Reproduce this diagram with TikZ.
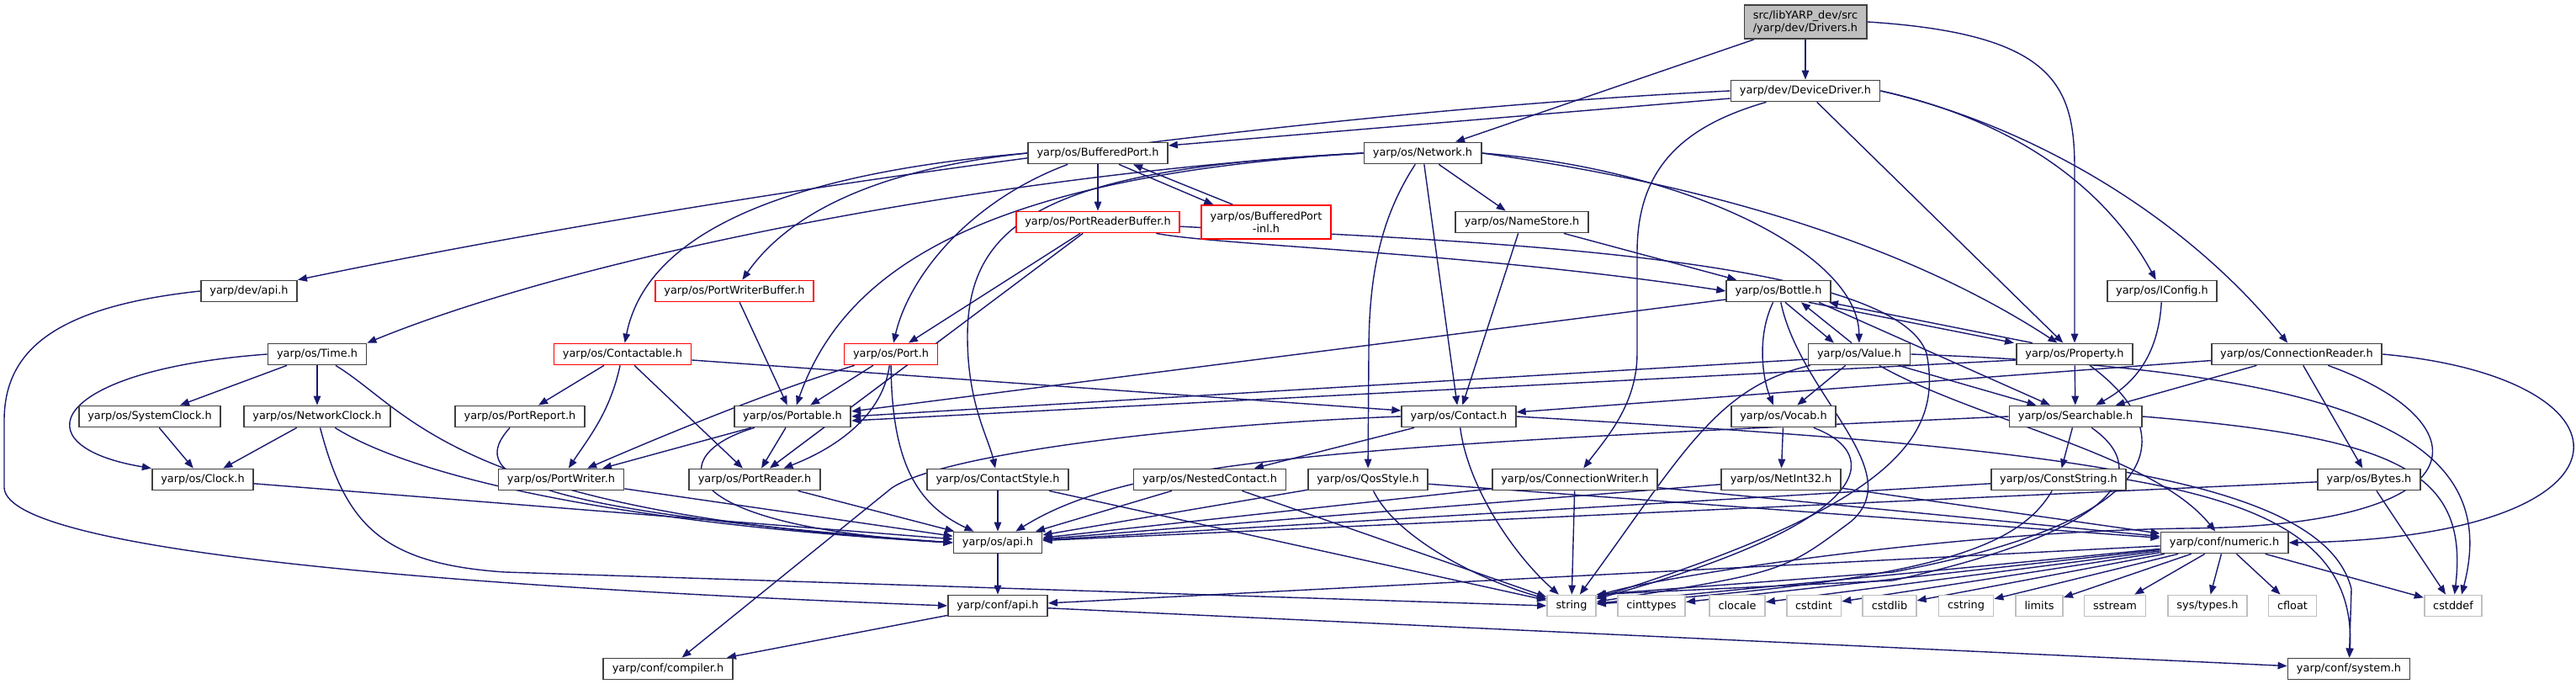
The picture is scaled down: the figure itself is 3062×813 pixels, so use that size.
\documentclass[tikz,border=0pt]{standalone}
\usepackage{fontspec}
\setmainfont{DejaVu Sans}
\usepackage{tikz}
\usetikzlibrary{arrows.meta}
\definecolor{edgeblue}{HTML}{191970}
\definecolor{boxgray}{HTML}{404040}
\definecolor{sysgray}{HTML}{BFBFBF}
\pgfdeclarelayer{edges}
\pgfsetlayers{edges,main}

\begin{document}
\begin{tikzpicture}[x=0.01cm,y=-0.01cm,font=\fontsize{3.66}{4.27}\selectfont,
  box/.style={draw=boxgray,fill=white,line width=0.5pt,minimum height=0.25cm,inner xsep=0.105cm,inner ysep=0pt},
  redbox/.style={box,draw=red},
  sysbox/.style={box,draw=sysgray},
  incl/.style={draw=edgeblue,line width=0.4pt,-{Triangle[length=0.11cm,width=0.085cm]}}]
\useasboundingbox (0,0) rectangle (3062,813);

% rank 0-3
\node[box,fill=sysgray,minimum height=0.4cm,align=center] (drivers) at (2146,26) {src/libYARP\_dev/src\\/yarp/dev/Drivers.h};
\node[box] (devdriver) at (2146,108) {yarp/dev/DeviceDriver.h};
\node[box] (bufport) at (1305,182) {yarp/os/BufferedPort.h};
\node[box] (network) at (1691,182) {yarp/os/Network.h};
\node[redbox] (prbuffer) at (1305,264) {yarp/os/PortReaderBuffer.h};
\node[redbox,minimum height=0.4cm,align=center] (bufportinl) at (1505,264) {yarp/os/BufferedPort\\-inl.h};
\node[box] (namestore) at (1809,264) {yarp/os/NameStore.h};

% rank 4-5
\node[box] (devapi) at (296,346) {yarp/dev/api.h};
\node[redbox] (pwbuffer) at (873,346) {yarp/os/PortWriterBuffer.h};
\node[box] (bottle) at (2114,346) {yarp/os/Bottle.h};
\node[box] (iconfig) at (2570,346) {yarp/os/IConfig.h};
\node[box] (time) at (377,421) {yarp/os/Time.h};
\node[redbox] (contactable) at (740,421) {yarp/os/Contactable.h};
\node[redbox] (port) at (1059,421) {yarp/os/Port.h};
\node[box] (value) at (2210,421) {yarp/os/Value.h};
\node[box] (property) at (2466,421) {yarp/os/Property.h};
\node[box] (connreader) at (2730,421) {yarp/os/ConnectionReader.h};

% rank 6-7
\node[box] (sysclock) at (178,495) {yarp/os/SystemClock.h};
\node[box] (netclock) at (377,495) {yarp/os/NetworkClock.h};
\node[box] (portreport) at (618,495) {yarp/os/PortReport.h};
\node[box] (portable) at (942,495) {yarp/os/Portable.h};
\node[box] (contact) at (1734,495) {yarp/os/Contact.h};
\node[box] (vocab) at (2120,495) {yarp/os/Vocab.h};
\node[box] (searchable) at (2467,495) {yarp/os/Searchable.h};
\node[box] (clock) at (241,570) {yarp/os/Clock.h};
\node[box] (portwriter) at (667,570) {yarp/os/PortWriter.h};
\node[box] (portreader) at (897,570) {yarp/os/PortReader.h};
\node[box] (contactstyle) at (1186,570) {yarp/os/ContactStyle.h};
\node[box] (nestedcontact) at (1438,570) {yarp/os/NestedContact.h};
\node[box] (qosstyle) at (1626,570) {yarp/os/QosStyle.h};
\node[box] (connwriter) at (1872,570) {yarp/os/ConnectionWriter.h};
\node[box] (netint) at (2117,570) {yarp/os/NetInt32.h};
\node[box] (conststring) at (2447,570) {yarp/os/ConstString.h};
\node[box] (bytes) at (2816,570) {yarp/os/Bytes.h};

% rank 8-10
\node[box] (osapi) at (1186,645) {yarp/os/api.h};
\node[box] (numeric) at (2644,645) {yarp/conf/numeric.h};
\node[box] (confapi) at (1186,720) {yarp/conf/api.h};
\foreach \n/\x/\t in {string/1868/string,cinttypes/1963/cinttypes,clocale/2065/clocale,
  cstdint/2156/cstdint,cstdlib/2246/cstdlib,cstring/2337/cstring,limits/2424/limits,
  sstream/2514/sstream,systypes/2624/{sys/types.h},cfloat/2725/cfloat,cstddef/2916/cstddef}
  \node[sysbox] (\n) at (\x,720) {\t};
\node[box] (compiler) at (794,795) {yarp/conf/compiler.h};
\node[box] (system) at (2792,795) {yarp/conf/system.h};

\begin{pgfonlayer}{edges}
% Drivers.h, DeviceDriver.h
\draw[incl] (drivers) -- (devdriver);
\draw[incl] (drivers) -- (network);
\draw[incl] (drivers.east) .. controls (2440,40) and (2466,100) .. (2466,200) -- (property);
\draw[incl] (devdriver.west) .. controls (1500,135) and (800,240) .. (devapi.north east);
\draw[incl] ([shift={(0,9)}]devdriver.west) -- ([shift={(0,-9)}]bufport.east);
\draw[incl] (devdriver) .. controls (2000,150) and (1946,200) .. (1946,300) -- (1946,420) .. controls (1946,480) and (1910,520) .. (connwriter);
\draw[incl] (devdriver) -- (property);
\draw[incl] (devdriver.east) .. controls (2360,135) and (2490,200) .. (iconfig);
\draw[incl] (devdriver.east) .. controls (2420,150) and (2600,260) .. (connreader);

% Network.h
\draw[incl] (network.west) .. controls (1200,205) and (700,300) .. (time.north east);
\draw[incl] (network) -- (namestore);
\draw[incl] (network) -- (contact);
\draw[incl] (network) .. controls (1640,260) and (1627,330) .. (1627,420) -- (qosstyle);
\draw[incl] (network.east) .. controls (2000,200) and (2209,300) .. (value);
\draw[incl] (network.east) .. controls (2000,215) and (2250,280) .. (property);
\draw[incl] (network.west) .. controls (1250,200) and (1150,260) .. (1150,400) .. controls (1150,480) and (1175,520) .. (contactstyle);
\draw[incl] (network.west) .. controls (1150,210) and (1000,330) .. (portable);

% BufferedPort.h, PortReaderBuffer.h, NameStore.h
\draw[incl] (bufport.west) .. controls (1050,200) and (940,250) .. (pwbuffer);
\draw[incl] (bufport.west) .. controls (950,205) and (770,270) .. (contactable);
\draw[incl] (bufport) .. controls (1150,240) and (1080,330) .. (port);
\draw[incl] (bufport) -- (prbuffer);
\draw[incl] ([shift={(25,0)}]bufport.south) -- ([shift={(15,0)}]bufportinl.north west);
\draw[incl] ([shift={(38,0)}]bufportinl.north west) -- ([shift={(42,0)}]bufport.south);
\draw[incl] (prbuffer) -- (port);
\draw[incl] (prbuffer) -- (portreader);
\draw[incl] (prbuffer) .. controls (1450,292) and (1750,300) .. (bottle.west);
\draw[incl] (prbuffer) .. controls (1700,285) and (2250,300) .. (2290,420) .. controls (2310,520) and (2250,600) .. (string);
\draw[incl] (namestore) -- (bottle);
\draw[incl] (namestore) -- (contact);

% left part
\draw[incl] (devapi.west) .. controls (60,365) and (5,420) .. (5,500) -- (5,580) .. controls (10,660) and (600,700) .. (confapi.west);
\draw[incl] (pwbuffer) -- (portable);
\draw[incl] (time) -- (sysclock);
\draw[incl] (time) -- (netclock);
\draw[incl] (time.west) .. controls (60,440) and (20,530) .. (clock.north west);
\draw[incl] (time) .. controls (490,490) and (540,610) .. (osapi.west);
\draw[incl] (sysclock) -- (clock);
\draw[incl] (netclock) -- (clock);
\draw[incl] (netclock) .. controls (480,560) and (700,620) .. (osapi.west);
\draw[incl] (netclock) .. controls (410,620) and (450,670) .. (600,680) -- (string.west);
\draw[incl] (clock) -- (osapi);

% Contactable.h, Port.h, Portable.h
\draw[incl] (contactable) -- (portreport);
\draw[incl] (contactable) .. controls (725,490) and (700,520) .. (portwriter);
\draw[incl] (contactable) -- (portreader);
\draw[incl] ([shift={(0,7)}]contactable.east) -- ([shift={(0,-7)}]contact.west);
\draw[incl] (portreport) .. controls (560,560) and (590,605) .. (osapi.west);
\draw[incl] (portwriter) -- (osapi);
\draw[incl] (port) -- (portable);
\draw[incl] (port) .. controls (1050,490) and (1000,530) .. (portreader);
\draw[incl] (port) .. controls (900,470) and (760,530) .. (portwriter);
\draw[incl] (port) .. controls (1060,550) and (1090,600) .. (osapi);
\draw[incl] (portable) -- (portreader);
\draw[incl] (portable) -- (portwriter);
\draw[incl] (portable) .. controls (790,540) and (790,625) .. (osapi.west);
\draw[incl] (portreader) -- (osapi);

% rank 7 into os/api.h and string
\draw[incl] (contactstyle) -- (osapi);
\draw[incl] (contactstyle) -- (string);
\draw[incl] (nestedcontact) -- (osapi);
\draw[incl] (nestedcontact) -- (string);
\draw[incl] (qosstyle) -- (osapi);
\draw[incl] (qosstyle) .. controls (1660,640) and (1760,690) .. (string);
\draw[incl] (qosstyle) -- (numeric);
\draw[incl] (connwriter) -- (osapi);
\draw[incl] (connwriter) -- (string);
\draw[incl] (connwriter) -- (numeric);

% Contact.h
\draw[incl] (contact) -- (nestedcontact);
\draw[incl] (contact) .. controls (1745,580) and (1800,660) .. (string);
\draw[incl] (contact.west) .. controls (1400,505) and (1120,540) .. (1060,580) -- (compiler);
\draw[incl] (contact.east) .. controls (2400,530) and (2760,560) .. (2795,700) -- (system);

% Bottle.h, Value.h, Property.h
\draw[incl] ([shift={(8,0)}]bottle.south) -- ([shift={(-30,0)}]value.north);
\draw[incl] ([shift={(-9,0)}]value.north) -- ([shift={(27,0)}]bottle.south);
\draw[incl] ([shift={(36,0)}]bottle.south) -- ([shift={(-72,0)}]property.north);
\draw[incl] ([shift={(-50,0)}]property.north) -- ([shift={(60,0)}]bottle.south);
\draw[incl] ([shift={(48,0)}]bottle.south) -- ([shift={(-30,0)}]searchable.north);
\draw[incl] (bottle) .. controls (2088,400) and (2095,450) .. ([shift={(-12,0)}]vocab.north);
\draw[incl] (bottle) .. controls (2140,470) and (2270,560) .. (2200,620) .. controls (2120,680) .. (string);
\draw[incl] ([shift={(0,10)}]bottle.west) -- ([shift={(0,-6)}]portable.east);
\draw[incl] (value) -- (vocab);
\draw[incl] (value) -- (searchable);
\draw[incl] ([shift={(0,6)}]value.west) -- (portable.east);
\draw[incl] (value) .. controls (2040,460) and (2000,540) .. (string);
\draw[incl] (value) .. controls (2350,500) and (2560,540) .. (numeric);
\draw[incl] (value.east) .. controls (2800,440) and (2975,520) .. ([shift={(10,0)}]cstddef.north);
\draw[incl] (property) -- (searchable);
\draw[incl] ([shift={(0,7)}]property.west) -- ([shift={(0,5)}]portable.east);
\draw[incl] (property) .. controls (2600,520) and (2570,620) .. (2250,680) -- (string.north east);

% Searchable.h, IConfig.h, ConnectionReader.h
\draw[incl] (searchable) -- (conststring);
\draw[incl] (searchable.east) .. controls (2850,520) and (2935,560) .. (cstddef);
\draw[incl] (searchable) .. controls (2560,560) and (2520,630) .. (2250,690) -- (string.north east);
\draw[incl] (searchable.west) .. controls (1600,530) and (1345,545) .. (osapi);
\draw[incl] (iconfig) .. controls (2565,430) and (2530,460) .. (searchable);
\draw[incl] (connreader) -- (contact);
\draw[incl] (connreader) -- (searchable);
\draw[incl] (connreader) -- (bytes);
\draw[incl] (connreader) .. controls (2950,500) and (2960,625) .. (2600,628) .. controls (2300,632) and (1950,690) .. (string);
\draw[incl] (connreader.east) .. controls (3150,450) and (3150,640) .. (numeric.east);

% lower right
\draw[incl] (bytes) -- (osapi);
\draw[incl] (bytes) -- (cstddef);
\draw[incl] (vocab) -- (netint);
\draw[incl] (vocab) .. controls (2240,540) and (2230,620) .. (string);
\draw[incl] (netint) -- (osapi);
\draw[incl] (netint) -- (numeric);
\draw[incl] (conststring) .. controls (2400,650) and (2300,690) .. (string);
\draw[incl] (conststring) -- (osapi);
\draw[incl] (conststring.east) .. controls (2700,600) and (2800,650) .. (system);

% conf headers
\draw[incl] (osapi) -- (confapi);
\draw[incl] (confapi) -- (compiler);
\draw[incl] (confapi) -- (system);
\draw[incl] (numeric) -- (confapi);
\draw[incl] (numeric) -- (string);
\foreach \h in {cinttypes,clocale,cstdint,cstdlib,cstring,limits,sstream,systypes,cfloat,cstddef}
  \draw[incl] (numeric) -- (\h);
\end{pgfonlayer}
\end{tikzpicture}
\end{document}
